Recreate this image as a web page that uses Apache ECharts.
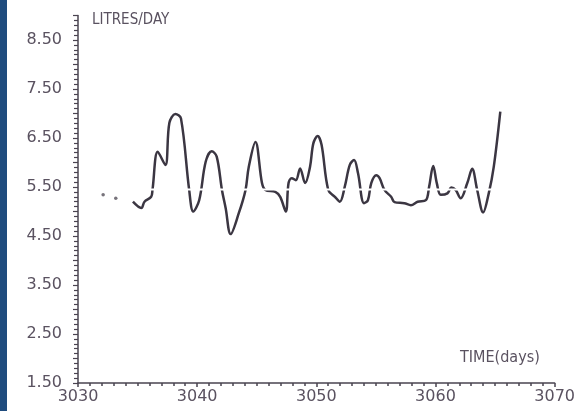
<!DOCTYPE html>
<html>
<head>
<meta charset="utf-8">
<script src="https://cdn.jsdelivr.net/npm/echarts@6/dist/echarts.min.js"></script>
<style>
  html, body { margin: 0; padding: 0; background: #ffffff; }
  #chart { width: 578px; height: 411px; }
</style>
</head>
<body>
<div id="chart"></div>
<script>
// Daily consumption trace
const days = [
  3034.61, 3035.31, 3035.58, 3036.14, 3036.25, 3036.69, 3037.33, 3037.67, 3038.17, 3038.64,
  3039.33, 3039.67, 3040.17, 3040.72, 3041.22, 3041.64, 3042.08, 3042.39, 3042.81, 3043.50,
  3044.06, 3044.33, 3044.89, 3045.44, 3045.72, 3046.56, 3046.97, 3047.44, 3047.67, 3047.94,
  3048.28, 3048.64, 3049.06, 3049.47, 3049.75, 3050.11, 3050.44, 3051.00, 3051.56, 3051.97,
  3052.39, 3052.81, 3053.17, 3053.50, 3054.00, 3054.33, 3054.61, 3055.03, 3055.31, 3055.72,
  3056.28, 3056.56, 3057.39, 3057.94, 3058.50, 3059.19, 3059.47, 3059.81, 3060.11, 3060.44,
  3061.00, 3061.33, 3061.69, 3062.11, 3062.67, 3063.08, 3063.50, 3064.00, 3064.47, 3064.89,
  3065.44
];
const litres = [
  5.20, 5.07, 5.20, 5.30, 5.44, 6.22, 5.95, 6.81, 6.99, 6.90,
  5.44, 5.00, 5.23, 6.02, 6.23, 6.12, 5.44, 5.07, 4.54, 4.97,
  5.44, 5.91, 6.42, 5.58, 5.44, 5.40, 5.30, 5.00, 5.58, 5.68,
  5.64, 5.88, 5.58, 5.91, 6.39, 6.54, 6.36, 5.44, 5.30, 5.20,
  5.51, 5.95, 6.05, 5.78, 5.17, 5.23, 5.58, 5.74, 5.68, 5.44,
  5.30, 5.19, 5.17, 5.13, 5.20, 5.23, 5.51, 5.93, 5.58, 5.34,
  5.37, 5.49, 5.44, 5.27, 5.58, 5.87, 5.44, 4.98, 5.37, 5.91,
  7.04
];

// Two stray readings before the trace starts
const strayDays = [3032.11, 3033.17];
const strayLitres = [5.34, 5.27];

// Thin white rule crossing the trace
const ruleDays = [3034, 3066];
const ruleLevel = 5.45;

const yLabels = ['1.50', '2.50', '3.50', '4.50', '5.50', '6.50', '7.50', '8.50'];

const ink = '#3b3642';
const labelInk = '#5a5260';
const axisInk = '#4a4450';

const chart = echarts.init(document.getElementById('chart'), null, { renderer: 'canvas' });

chart.setOption({
  animation: false,
  backgroundColor: '#ffffff',
  grid: { left: 78, right: 20, top: 15.5, bottom: 28, containLabel: false },
  xAxis: {
    type: 'value',
    min: 3030,
    max: 3070,
    interval: 10,
    axisLine: { show: true, lineStyle: { color: axisInk, width: 1.5 } },
    axisTick: { show: true, length: 4, lineStyle: { color: axisInk, width: 1.5 } },
    minorTick: { show: true, splitNumber: 10, length: 3, lineStyle: { color: axisInk, width: 1.5 } },
    splitLine: { show: false },
    axisLabel: {
      margin: 6,
      color: labelInk,
      fontFamily: 'DejaVu Sans',
      fontSize: 16,
      formatter: v => String(v)
    }
  },
  yAxis: {
    type: 'value',
    min: 1.5,
    max: 9.0,
    interval: 0.5,
    axisLine: { show: true, lineStyle: { color: axisInk, width: 1.5 } },
    axisTick: { show: true, length: 5, lineStyle: { color: axisInk, width: 1.2 } },
    minorTick: { show: true, splitNumber: 5, length: 4, lineStyle: { color: axisInk, width: 1.2 } },
    splitLine: { show: false },
    axisLabel: {
      margin: 16,
      color: labelInk,
      fontFamily: 'DejaVu Sans',
      fontSize: 16,
      formatter: v => {
        const s = v.toFixed(2);
        return yLabels.indexOf(s) >= 0 ? s : '';
      }
    }
  },
  graphic: [
    { type: 'rect', left: 0, top: 0, shape: { width: 7, height: 411 }, style: { fill: '#1f4c7e' }, z: 100 },
    { type: 'text', left: 92, top: 13, style: { text: 'LITRES/DAY', fill: labelInk, font: '15px "DejaVu Sans Condensed"' } },
    { type: 'text', left: 460, top: 350, style: { text: 'TIME(days)', fill: labelInk, font: '16px "DejaVu Sans Condensed"' } }
  ],
  series: [
    {
      type: 'line',
      data: days.map((d, i) => [d, litres[i]]),
      smooth: 0.35,
      showSymbol: false,
      lineStyle: { color: ink, width: 2.5 },
      z: 2
    },
    {
      type: 'scatter',
      data: strayDays.map((d, i) => [d, strayLitres[i]]),
      symbolSize: 3.5,
      itemStyle: { color: '#55505a' },
      z: 2
    },
    {
      // white rule on its own layer so it cuts across the trace
      type: 'line',
      zlevel: 1,
      data: ruleDays.map(d => [d, ruleLevel]),
      showSymbol: false,
      silent: true,
      lineStyle: { color: '#ffffff', width: 2 }
    }
  ]
});
</script>
</body>
</html>
